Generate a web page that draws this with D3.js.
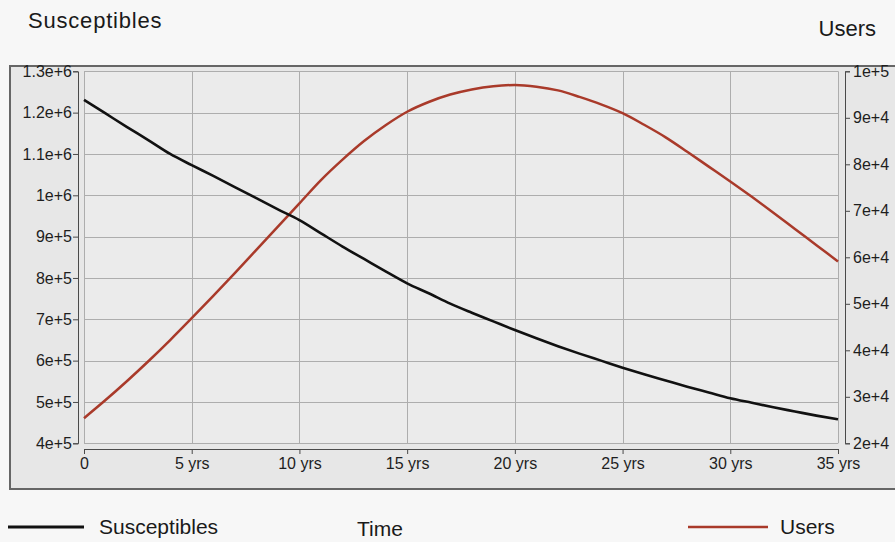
<!DOCTYPE html>
<html>
<head>
<meta charset="utf-8">
<script src="https://cdn.jsdelivr.net/npm/d3@7"></script>
<style>
  body { margin: 0; background: #f7f7f7; }
  svg { display: block; font-family: "Liberation Sans", Arial, sans-serif; }
  .axis path, .axis line { stroke: #4a4a4a; }
  .axis text { fill: #1e1e1e; font-size: 16px; font-family: "Liberation Sans", Arial, sans-serif; }
</style>
</head>
<body>
<div id="chart"></div>
<script>
// years 0..35
var years = [0,1,2,3,4,5,6,7,8,9,10,11,12,13,14,15,16,17,18,19,20,21,22,23,24,25,26,27,28,29,30,31,32,33,34,35];

var susceptibles = [1231000,1198000,1165000,1133000,1100000,1073000,1047000,1020000,993000,966000,
  940000,908000,876000,846000,816000,787000,763000,738000,716000,695000,
  674000,654000,635000,617000,600000,583000,567000,552000,537000,523000,
  509000,498000,487000,477000,467000,458000];

var users = [25400,29300,33400,37700,42200,46900,51700,56600,61600,66600,
  71600,76600,81000,85000,88400,91300,93400,95000,96100,96800,
  97050,96700,95900,94500,92900,91000,88500,85800,82700,79500,
  76300,73000,69600,66100,62600,59100];

var xTicks = [0,5,10,15,20,25,30,35];
var leftTicks = [400000,500000,600000,700000,800000,900000,1000000,1100000,1200000,1300000];
var rightTicks = [20000,30000,40000,50000,60000,70000,80000,90000,100000];

var width = 895, height = 542;
var plot = {left: 84, right: 838, top: 71.3, bottom: 443.3};

var svg = d3.select("#chart").append("svg")
  .attr("width", width)
  .attr("height", height);

svg.append("rect")
  .attr("width", width).attr("height", height)
  .attr("fill", "#f7f7f7");

// grey panel
svg.append("rect")
  .attr("x", 10).attr("y", 66)
  .attr("width", 900).attr("height", 423)
  .attr("fill", "#e7e7e7")
  .attr("stroke", "#666")
  .attr("stroke-width", 2);

var x = d3.scaleLinear().domain([0, 35]).range([plot.left, plot.right]);
var yL = d3.scaleLinear().domain([400000, 1300000]).range([plot.bottom, plot.top]);
var yR = d3.scaleLinear().domain([20000, 100000]).range([plot.bottom, plot.top]);

svg.append("rect")
  .attr("x", plot.left).attr("y", plot.top)
  .attr("width", plot.right - plot.left)
  .attr("height", plot.bottom - plot.top)
  .attr("fill", "#ebebeb");

// grid
svg.append("g").selectAll("line")
  .data(leftTicks)
  .enter().append("line")
  .attr("x1", plot.left).attr("x2", plot.right)
  .attr("y1", function(d) { return Math.round(yL(d)) + 0.5; })
  .attr("y2", function(d) { return Math.round(yL(d)) + 0.5; })
  .attr("stroke", "#adadad");

svg.append("g").selectAll("line")
  .data(xTicks)
  .enter().append("line")
  .attr("y1", plot.top).attr("y2", plot.bottom)
  .attr("x1", function(d) { return Math.round(x(d)) + 0.5; })
  .attr("x2", function(d) { return Math.round(x(d)) + 0.5; })
  .attr("stroke", "#adadad");

var fmtE = d3.format(".2~e");

// left axis, shifted off the plot
svg.append("g")
  .attr("class", "axis")
  .attr("transform", "translate(78,0)")
  .call(d3.axisLeft(yL).tickValues(leftTicks).tickFormat(fmtE).tickSize(5).tickSizeOuter(5).tickPadding(1));

svg.append("g")
  .attr("class", "axis")
  .attr("transform", "translate(845,0)")
  .call(d3.axisRight(yR).tickValues(rightTicks).tickFormat(fmtE).tickSize(5).tickSizeOuter(5).tickPadding(3));

svg.append("g")
  .attr("class", "axis")
  .attr("transform", "translate(0,449)")
  .call(d3.axisBottom(x).tickValues(xTicks)
    .tickFormat(function(d) { return d == 0 ? "0" : d + " yrs"; })
    .tickSize(5).tickSizeOuter(5).tickPadding(4));

// lines
var lineL = d3.line()
  .x(function(d, i) { return x(years[i]); })
  .y(function(d) { return yL(d); })
  .curve(d3.curveMonotoneX);

var lineR = d3.line()
  .x(function(d, i) { return x(years[i]); })
  .y(function(d) { return yR(d); })
  .curve(d3.curveMonotoneX);

svg.append("path")
  .datum(users)
  .attr("d", lineR)
  .attr("fill", "none")
  .attr("stroke", "#a93a2a")
  .attr("stroke-width", 2.5);

svg.append("path")
  .datum(susceptibles)
  .attr("d", lineL)
  .attr("fill", "none")
  .attr("stroke", "#111")
  .attr("stroke-width", 2.6);

// titles
svg.append("text")
  .attr("x", 28).attr("y", 28)
  .style("font-size", "22px").style("letter-spacing", "0.8px").attr("fill", "#1a1a1a")
  .text("Susceptibles");

svg.append("text")
  .attr("x", 876).attr("y", 36)
  .attr("text-anchor", "end")
  .style("font-size", "22px").attr("fill", "#1a1a1a")
  .text("Users");

// legend
svg.append("line")
  .attr("x1", 8).attr("x2", 84).attr("y1", 527).attr("y2", 527)
  .attr("stroke", "#111").attr("stroke-width", 3);
svg.append("text")
  .attr("x", 99).attr("y", 534)
  .style("font-size", "21px").attr("fill", "#1a1a1a")
  .text("Susceptibles");

svg.append("text")
  .attr("x", 380).attr("y", 536)
  .attr("text-anchor", "middle")
  .style("font-size", "21px").attr("fill", "#1a1a1a")
  .text("Time");

svg.append("line")
  .attr("x1", 688).attr("x2", 768).attr("y1", 527).attr("y2", 527)
  .attr("stroke", "#a93a2a").attr("stroke-width", 2.5);
svg.append("text")
  .attr("x", 780).attr("y", 534)
  .style("font-size", "21px").attr("fill", "#1a1a1a")
  .text("Users");
</script>
</body>
</html>
